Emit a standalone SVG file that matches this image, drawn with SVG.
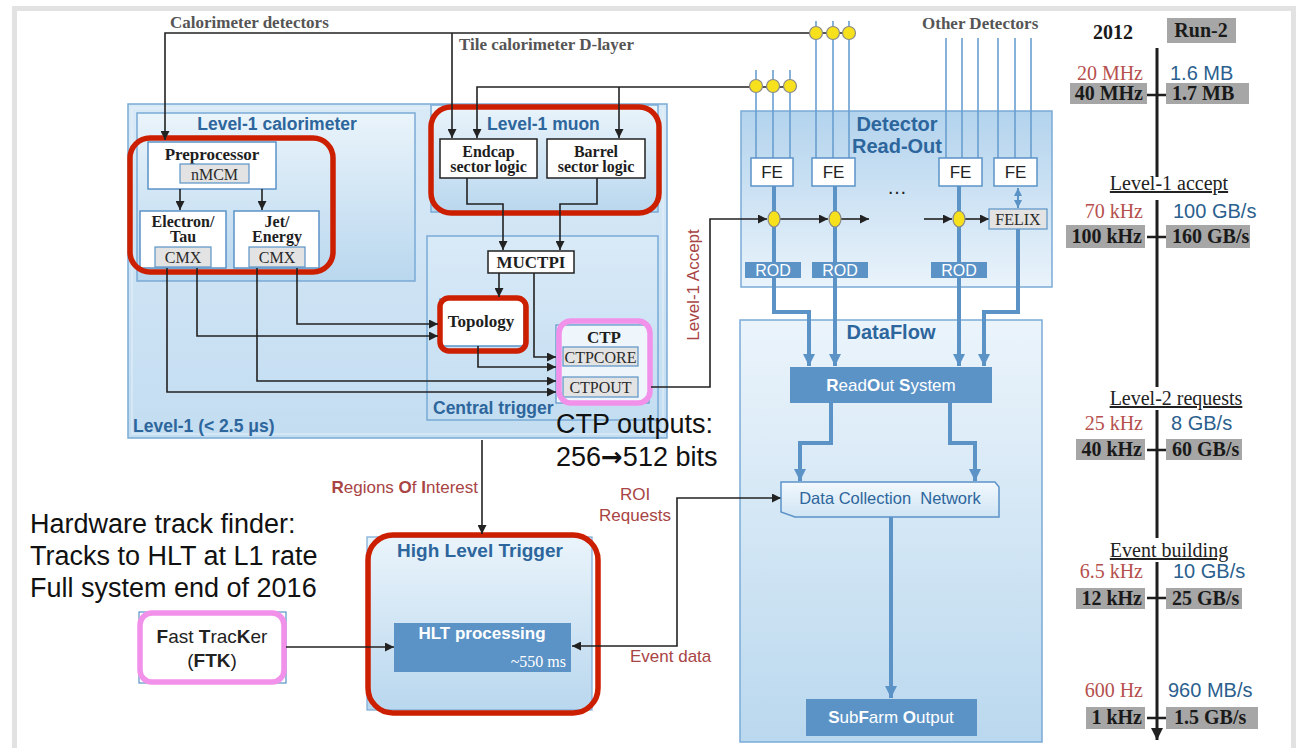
<svg xmlns="http://www.w3.org/2000/svg" width="1299" height="748" viewBox="0 0 1299 748">
<defs>
<style>
.sb{font-family:"Liberation Serif",serif;font-weight:bold;fill:#1e1e1e}
.sr{font-family:"Liberation Serif",serif;fill:#2a2a2a}
.t{font-family:"Liberation Sans",Arial,sans-serif;font-weight:bold;fill:#2d669c}
.w{fill:#fff;stroke:#5b93c7;stroke-width:1.5}
.g{fill:#e3e3e3;stroke:#5b93c7;stroke-width:1.2}
.blk{fill:none;stroke:#222;stroke-width:1.6}
.bl{fill:none;stroke:#5b93c7;stroke-width:4}
.bt{fill:none;stroke:#6a9fd0;stroke-width:1.6}
.rod{fill:#5b93c7}
.wt{font-family:"Liberation Sans",Arial,sans-serif;fill:#fff}
.yd{fill:#f6e11c;stroke:#8a8a8a;stroke-width:1.2}
.red{fill:none;stroke:#cc1f00;stroke-width:5.5}
.pink{fill:none;stroke:#f291ea;stroke-width:5.5}
.rt{font-family:"Liberation Serif",serif;font-size:20px;fill:#b5504d}
.bt2{font-family:"Liberation Sans",Arial,sans-serif;font-size:20px;fill:#2b5f8e}
.gb{fill:#a6a6a6}
.bx{font-family:"Liberation Serif",serif;font-weight:bold;font-size:20px;fill:#1a1a1a}
.hd{font-family:"Liberation Serif",serif;font-size:20px;fill:#222;text-decoration:underline}
.big{font-family:"Liberation Sans",Arial,sans-serif;font-size:27px;fill:#111}
.rl{font-family:"Liberation Sans",Arial,sans-serif;font-size:17px;fill:#a84444}
</style>
<linearGradient id="gL1" x1="0" y1="0" x2="0" y2="1"><stop offset="0" stop-color="#d9eaf7"/><stop offset="1" stop-color="#c3ddf1"/></linearGradient>
<linearGradient id="gIn" x1="0" y1="0" x2="0" y2="1"><stop offset="0" stop-color="#eaf4fb"/><stop offset="1" stop-color="#b9d7ee"/></linearGradient>
<linearGradient id="gDR" x1="0" y1="0" x2="0" y2="1"><stop offset="0" stop-color="#b3d3ed"/><stop offset="1" stop-color="#e9f3fb"/></linearGradient>
<linearGradient id="gDF" x1="0" y1="0" x2="0" y2="1"><stop offset="0" stop-color="#ebf4fb"/><stop offset="1" stop-color="#bad8ee"/></linearGradient>
<linearGradient id="gDCN" x1="0" y1="0" x2="0" y2="1"><stop offset="0" stop-color="#f2f8fd"/><stop offset="1" stop-color="#cfe4f4"/></linearGradient>
<marker id="ak" viewBox="0 0 10 10" refX="10" refY="5" markerWidth="9" markerHeight="9" markerUnits="userSpaceOnUse" orient="auto-start-reverse"><path d="M0,0 L10,5 L0,10 z" fill="#222"/></marker>
<marker id="ab" viewBox="0 0 10 10" refX="10" refY="5" markerWidth="12" markerHeight="12" markerUnits="userSpaceOnUse" orient="auto"><path d="M0,0 L10,5 L0,10 z" fill="#5b93c7"/></marker>
<marker id="abs" viewBox="0 0 10 10" refX="10" refY="5" markerWidth="8" markerHeight="8" markerUnits="userSpaceOnUse" orient="auto-start-reverse"><path d="M0,0 L10,5 L0,10 z" fill="#5b93c7"/></marker>
<marker id="akt" viewBox="0 0 10 10" refX="10" refY="5" markerWidth="12" markerHeight="12" markerUnits="userSpaceOnUse" orient="auto"><path d="M0,0 L10,5 L0,10 z" fill="#222"/></marker>
</defs>
<rect x="0" y="0" width="1299" height="748" fill="#fff"/>
<rect x="14.5" y="8.5" width="1279" height="760" fill="#fff" stroke="#e2e2e2" stroke-width="5"/>

<g id="level1">
<rect x="128" y="104" width="539" height="334" fill="url(#gL1)" stroke="#7aaad6" stroke-width="1.5"/>
<rect x="132" y="108" width="531" height="326" fill="none" stroke="#e6f0f9" stroke-width="1"/>
<text class="t" x="133" y="432" font-size="17.5">Level-1 (&lt; 2.5 μs)</text>
</g>
<g id="l1calo">
<rect x="137" y="113" width="278" height="168" fill="url(#gIn)" stroke="#7aaad6" stroke-width="1.5"/>
<text class="t" x="277" y="130" font-size="17.5" text-anchor="middle">Level-1 calorimeter</text>
</g>
<g id="preprocessor">
<rect class="w" x="148" y="142" width="128" height="47"/>
<text class="sb" x="212" y="160" font-size="17" text-anchor="middle">Preprocessor</text>
<rect class="g" x="180" y="164" width="69" height="19"/>
<text class="sr" x="214.5" y="180" font-size="16" text-anchor="middle">nMCM</text>
</g>
<g id="electron-tau">
<rect class="w" x="140" y="211" width="86" height="57"/>
<text class="sb" x="183" y="227" font-size="16" text-anchor="middle">Electron/</text>
<text class="sb" x="183" y="242" font-size="16" text-anchor="middle">Tau</text>
<rect class="g" x="155" y="247" width="56" height="20"/>
<text class="sr" x="183" y="263" font-size="16" text-anchor="middle">CMX</text>
</g>
<g id="jet-energy">
<rect class="w" x="234" y="211" width="85" height="57"/>
<text class="sb" x="277" y="227" font-size="16" text-anchor="middle">Jet/</text>
<text class="sb" x="277" y="242" font-size="16" text-anchor="middle">Energy</text>
<rect class="g" x="249" y="247" width="56" height="20"/>
<text class="sr" x="277" y="263" font-size="16" text-anchor="middle">CMX</text>
</g>
<rect class="red" x="130" y="138" width="203" height="134" rx="20"/>

<g id="l1muon">
<rect x="431" y="105" width="227" height="107" fill="url(#gIn)" stroke="#7aaad6" stroke-width="1.5"/>
<text class="t" x="487" y="130" font-size="17.5">Level-1 muon</text>
<rect x="440" y="139" width="97" height="39" fill="#fff" stroke="#222" stroke-width="1.5"/>
<text class="sb" x="488.5" y="157" font-size="16" text-anchor="middle">Endcap</text>
<text class="sb" x="488.5" y="172" font-size="16" text-anchor="middle">sector logic</text>
<rect x="547" y="139" width="98" height="39" fill="#fff" stroke="#222" stroke-width="1.5"/>
<text class="sb" x="596" y="157" font-size="16" text-anchor="middle">Barrel</text>
<text class="sb" x="596" y="172" font-size="16" text-anchor="middle">sector logic</text>
<rect class="red" x="431" y="107" width="228" height="106" rx="20"/>
</g>

<g id="central-trigger">
<rect x="427" y="236" width="231" height="184" fill="url(#gL1)" stroke="#7aaad6" stroke-width="1.5"/>
<text class="t" x="433" y="414" font-size="17.5">Central trigger</text>
</g>
<g id="muctpi">
<rect x="488" y="251" width="86" height="22" fill="#fff" stroke="#222" stroke-width="1.5"/>
<text class="sb" x="531" y="268" font-size="17" text-anchor="middle">MUCTPI</text>
</g>
<g id="topology">
<rect class="w" x="440" y="299" width="84" height="47"/>
<text class="sb" x="481" y="327" font-size="17" text-anchor="middle">Topology</text>
<rect class="red" x="440" y="298" width="86" height="53" rx="9"/>
</g>
<g id="ctp">
<rect x="556" y="325" width="93" height="78" fill="#eef5fb" stroke="#5b93c7" stroke-width="1.2"/>
<text class="sb" x="604" y="343" font-size="17" text-anchor="middle">CTP</text>
<rect class="g" x="563" y="347" width="75" height="19"/>
<text class="sr" x="600.5" y="363" font-size="16" text-anchor="middle">CTPCORE</text>
<rect class="g" x="563" y="377" width="75" height="20"/>
<text class="sr" x="600.5" y="393" font-size="16" text-anchor="middle">CTPOUT</text>
<rect class="pink" x="559" y="321" width="91" height="82" rx="12"/>
</g>

<g id="detector-readout">
<rect x="741" y="111" width="311" height="176" fill="url(#gDR)" stroke="#7aaad6" stroke-width="1.5"/>
<text class="t" x="897" y="131" font-size="20" text-anchor="middle">Detector</text>
<text class="t" x="897" y="153" font-size="20" text-anchor="middle">Read-Out</text>
<text x="897" y="194" font-family="Liberation Sans,sans-serif" font-size="20" fill="#222" text-anchor="middle">…</text>
</g>

<g id="dataflow">
<rect x="740" y="320" width="302" height="422" fill="url(#gDF)" stroke="#7aaad6" stroke-width="1.5"/>
<text class="t" x="891" y="339" font-size="20" text-anchor="middle">DataFlow</text>
</g>

<g id="hlt">
<rect x="367" y="537" width="225" height="173" fill="url(#gIn)" stroke="#7aaad6" stroke-width="1.2"/>
<text class="t" x="480" y="557" font-size="19" text-anchor="middle" font-weight="normal"><tspan font-weight="bold">H</tspan>igh <tspan font-weight="bold">L</tspan>evel <tspan font-weight="bold">T</tspan>rigger</text>
<rect class="rod" x="394" y="623" width="177" height="49"/>
<text class="wt" x="482" y="639" font-size="17" font-weight="bold" text-anchor="middle">HLT processing</text>
<text x="566" y="667" font-family="Liberation Serif,serif" font-size="16" fill="#fff" text-anchor="end">~550 ms</text>
<rect class="red" x="368" y="535" width="230" height="178" rx="25"/>
</g>

<g id="ftk">
<rect x="139" y="612" width="147" height="71" fill="#fff" stroke="#5b93c7" stroke-width="1.2"/>
<rect class="pink" x="140" y="613" width="144" height="69" rx="12"/>
<text x="212" y="643" font-family="Liberation Sans,sans-serif" font-size="19" fill="#222" text-anchor="middle"><tspan font-weight="bold">F</tspan>ast <tspan font-weight="bold">T</tspan>rac<tspan font-weight="bold">K</tspan>er</text>
<text x="212" y="667" font-family="Liberation Sans,sans-serif" font-size="19" fill="#222" text-anchor="middle">(<tspan font-weight="bold">FTK</tspan>)</text>
</g>

<g id="connectors">
<path class="bt" d="M756,70V158M773,70V158M790,70V158M816,21V158M833,21V158M849,21V158M946,38V158M962,38V158M978,38V158M998,38V158M1015,38V158M1031,38V158"/>
<path class="blk" d="M849,33H165V140" marker-end="url(#ak)"/>
<path class="blk" d="M452,33V138" marker-end="url(#ak)"/>
<path class="blk" d="M790,87H477V138" marker-end="url(#ak)"/>
<path class="blk" d="M619,87V138" marker-end="url(#ak)"/>
<path class="blk" d="M180,189V210" marker-end="url(#ak)"/>
<path class="blk" d="M262,189V210" marker-end="url(#ak)"/>
<path class="blk" d="M467,178V204H503V250" marker-end="url(#ak)"/>
<path class="blk" d="M597,178V204H560V250" marker-end="url(#ak)"/>
<path class="blk" d="M499,273V297" marker-end="url(#ak)"/>
<path class="blk" d="M534,273V357H556" marker-end="url(#ak)"/>
<path class="blk" d="M478,346V367H556" marker-end="url(#ak)"/>
<path class="blk" d="M297,268V324H438" marker-end="url(#ak)"/>
<path class="blk" d="M197,268V336H438" marker-end="url(#ak)"/>
<path class="blk" d="M257,268V381H556" marker-end="url(#ak)"/>
<path class="blk" d="M167,268V392H556" marker-end="url(#ak)"/>
<path class="blk" d="M651,387H710V219H767" marker-end="url(#ak)"/>
<path class="blk" d="M780,219H828" marker-end="url(#ak)"/>
<path class="blk" d="M841,219H869" marker-end="url(#ak)"/>
<path class="blk" d="M924,219H952" marker-end="url(#ak)"/>
<path class="blk" d="M965,219H989" marker-end="url(#ak)"/>
<path class="blk" d="M482,440V534" marker-end="url(#ak)"/>
<path class="blk" d="M572,646H677V498H781" marker-start="url(#ak)" marker-end="url(#ak)"/>
<path class="blk" d="M286,647H394" marker-end="url(#ak)"/>
<path class="bl" d="M774,186V262M835,186V262M959,186V262"/>
<path class="bl" d="M774,278V312H809V366" marker-end="url(#ab)"/>
<path class="bl" d="M835,278V366" marker-end="url(#ab)"/>
<path class="bl" d="M959,278V366" marker-end="url(#ab)"/>
<path class="bl" d="M1018,229V312H984V366" marker-end="url(#ab)"/>
<path fill="none" stroke="#5b93c7" stroke-width="2" d="M1018,188V208" marker-start="url(#abs)" marker-end="url(#abs)"/>
<path class="bl" d="M831,403V443H800V481" marker-end="url(#ab)"/>
<path class="bl" d="M950,403V443H975V481" marker-end="url(#ab)"/>
<path class="bl" d="M891,517V698" marker-end="url(#ab)"/>
<g>
<circle class="yd" cx="816" cy="33" r="6.5"/><circle class="yd" cx="833" cy="33" r="6.5"/><circle class="yd" cx="849" cy="33" r="6.5"/>
<circle class="yd" cx="756" cy="86" r="6.5"/><circle class="yd" cx="773" cy="86" r="6.5"/><circle class="yd" cx="790" cy="86" r="6.5"/>
<ellipse class="yd" cx="774" cy="219" rx="6" ry="8"/><ellipse class="yd" cx="835" cy="219" rx="6" ry="8"/><ellipse class="yd" cx="959" cy="219" rx="6" ry="8"/>
</g>
</g>

<g id="fe-boxes">
<rect class="w" x="751" y="158" width="42" height="28"/><text x="772" y="178" font-family="Liberation Sans,sans-serif" font-size="17" fill="#222" text-anchor="middle">FE</text>
<rect class="w" x="812" y="158" width="43" height="28"/><text x="833.5" y="178" font-family="Liberation Sans,sans-serif" font-size="17" fill="#222" text-anchor="middle">FE</text>
<rect class="w" x="939" y="158" width="43" height="28"/><text x="960.5" y="178" font-family="Liberation Sans,sans-serif" font-size="17" fill="#222" text-anchor="middle">FE</text>
<rect class="w" x="994" y="158" width="43" height="28"/><text x="1015.5" y="178" font-family="Liberation Sans,sans-serif" font-size="17" fill="#222" text-anchor="middle">FE</text>
</g>
<g id="felix">
<rect class="g" x="989" y="209" width="58" height="20"/>
<text class="sr" x="1018" y="225" font-size="16" text-anchor="middle">FELIX</text>
</g>
<g id="rods">
<rect class="rod" x="745" y="262" width="56" height="16"/><text class="wt" x="773" y="276" font-size="16" text-anchor="middle">ROD</text>
<rect class="rod" x="812" y="262" width="56" height="16"/><text class="wt" x="840" y="276" font-size="16" text-anchor="middle">ROD</text>
<rect class="rod" x="931" y="262" width="56" height="16"/><text class="wt" x="959" y="276" font-size="16" text-anchor="middle">ROD</text>
</g>
<g id="ros">
<rect class="rod" x="790" y="367" width="202" height="36"/>
<text class="wt" x="891" y="391" font-size="17" text-anchor="middle"><tspan font-weight="bold">R</tspan>ead<tspan font-weight="bold">O</tspan>ut <tspan font-weight="bold">S</tspan>ystem</text>
</g>
<g id="dcn">
<path d="M781,482H995L999,487V517H795L781,512Z" fill="url(#gDCN)" stroke="#5b93c7" stroke-width="1.5"/>
<text x="890" y="504" font-family="Liberation Sans,sans-serif" font-size="16.5" fill="#2d669c" text-anchor="middle" xml:space="preserve">Data Collection  Network</text>
</g>
<g id="sfo">
<rect class="rod" x="806" y="699" width="171" height="37"/>
<text class="wt" x="891" y="723" font-size="17" text-anchor="middle"><tspan font-weight="bold">S</tspan>ub<tspan font-weight="bold">F</tspan>arm <tspan font-weight="bold">O</tspan>utput</text>
</g>

<g id="labels">
<text class="sb" x="170" y="28" font-size="17" style="fill:#555">Calorimeter detectors</text>
<text class="sb" x="459" y="50" font-size="17" style="fill:#555">Tile calorimeter D-layer</text>
<text class="sb" x="922" y="29" font-size="17" style="fill:#555">Other Detectors</text>
<text class="rl" transform="translate(699,285) rotate(-90)" text-anchor="middle">Level-1 Accept</text>
<text class="rl" x="478" y="493" text-anchor="end"><tspan font-weight="bold">R</tspan>egions <tspan font-weight="bold">O</tspan>f <tspan font-weight="bold">I</tspan>nterest</text>
<text class="rl" x="635" y="500" text-anchor="middle">ROI</text>
<text class="rl" x="635" y="521" text-anchor="middle">Requests</text>
<text class="rl" x="630" y="662">Event data</text>
<text class="big" x="556" y="433" font-size="29">CTP outputs:</text>
<text class="big" x="556" y="466" font-size="29">256<tspan font-family="DejaVu Sans,sans-serif" font-weight="bold" font-size="26">→</tspan>512 bits</text>
<text class="big" x="30" y="533">Hardware track finder:</text>
<text class="big" x="30" y="565">Tracks to HLT at L1 rate</text>
<text class="big" x="30" y="597">Full system end of 2016</text>
</g>

<g id="timeline">
<text class="bx" x="1113" y="39" font-size="19" text-anchor="middle">2012</text>
<rect class="gb" x="1167" y="18" width="69" height="25"/>
<text class="bx" x="1201" y="37" font-size="19" text-anchor="middle">Run-2</text>
<path d="M1157,48V177M1157,200V387M1157,410V538M1157,562V736" stroke="#1e1e1e" stroke-width="3" fill="none"/>
<path d="M1157,730V740" stroke="#1e1e1e" stroke-width="3" marker-end="url(#akt)"/>
<path d="M1147,95H1166M1147,237H1166M1147,450H1166M1147,598H1166M1147,718H1166" stroke="#1e1e1e" stroke-width="2.5"/>

<text class="rt" x="1143" y="80" text-anchor="end">20 MHz</text>
<text class="bt2" x="1170" y="80">1.6 MB</text>
<rect class="gb" x="1070" y="83" width="77" height="21"/><text class="bx" x="1143" y="100" text-anchor="end">40 MHz</text>
<rect class="gb" x="1166" y="83" width="83" height="21"/><text class="bx" x="1172" y="100">1.7 MB</text>

<text class="hd" x="1169" y="190" text-anchor="middle">Level-1 accept</text>
<text class="rt" x="1143" y="218" text-anchor="end">70 kHz</text>
<text class="bt2" x="1173" y="218">100 GB/s</text>
<rect class="gb" x="1066" y="225" width="79" height="23"/><text class="bx" x="1142" y="243" text-anchor="end">100 kHz</text>
<rect class="gb" x="1166" y="225" width="84" height="23"/><text class="bx" x="1172" y="243">160 GB/s</text>

<text class="hd" x="1176" y="405" text-anchor="middle">Level-2 requests</text>
<text class="rt" x="1143" y="430" text-anchor="end">25 kHz</text>
<text class="bt2" x="1171" y="430">8 GB/s</text>
<rect class="gb" x="1076" y="439" width="69" height="21"/><text class="bx" x="1142" y="456" text-anchor="end">40 kHz</text>
<rect class="gb" x="1166" y="439" width="76" height="21"/><text class="bx" x="1172" y="456">60 GB/s</text>

<text class="hd" x="1169" y="557" text-anchor="middle">Event building</text>
<text class="rt" x="1143" y="578" text-anchor="end">6.5 kHz</text>
<text class="bt2" x="1173" y="578">10 GB/s</text>
<rect class="gb" x="1076" y="588" width="69" height="21"/><text class="bx" x="1142" y="605" text-anchor="end">12 kHz</text>
<rect class="gb" x="1166" y="588" width="76" height="21"/><text class="bx" x="1172" y="605">25 GB/s</text>

<text class="rt" x="1143" y="697" text-anchor="end">600 Hz</text>
<text class="bt2" x="1168" y="697">960 MB/s</text>
<rect class="gb" x="1086" y="707" width="59" height="22"/><text class="bx" x="1142" y="724" text-anchor="end">1 kHz</text>
<rect class="gb" x="1166" y="707" width="92" height="22"/><text class="bx" x="1174" y="724">1.5 GB/s</text>
</g>
</svg>
